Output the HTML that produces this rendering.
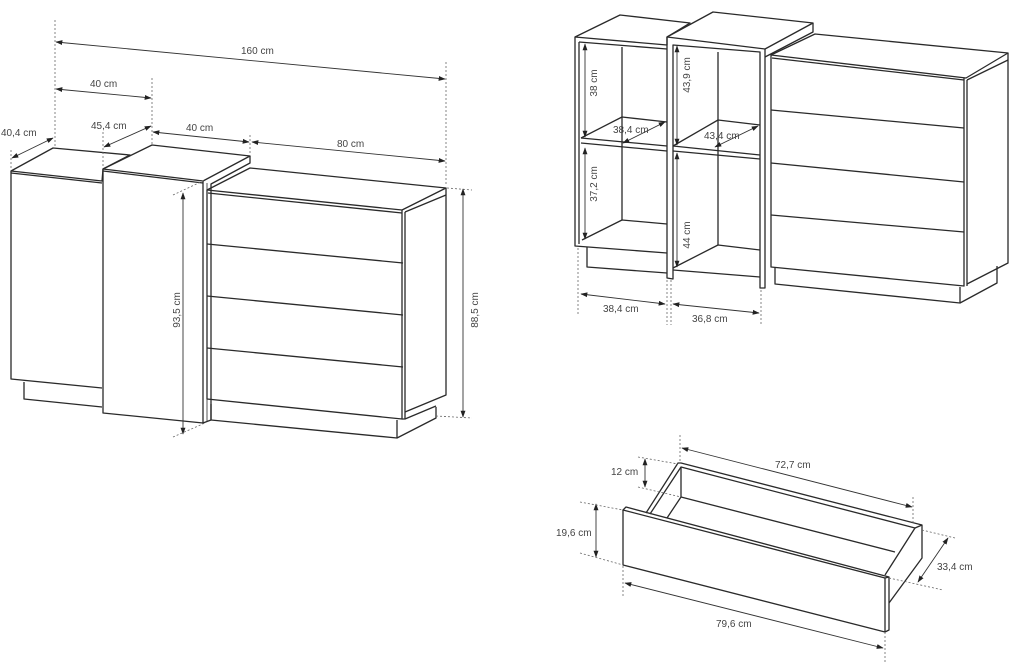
<!DOCTYPE html>
<html><head><meta charset="utf-8"><style>
html,body{margin:0;padding:0;background:#fff;}
svg{display:block}
text{font-family:"Liberation Sans",sans-serif;font-size:10px;fill:#444;}
.l{stroke:#2a2a2a;stroke-width:1.3;fill:none;stroke-linejoin:round}
.t{stroke:#2a2a2a;stroke-width:0.8;fill:none}
.d{stroke:#666;stroke-width:0.8;fill:none;stroke-dasharray:2,2}
.a{stroke:#333;stroke-width:0.9;fill:none;marker-start:url(#ar);marker-end:url(#ar)}
</style></head><body>
<svg width="1020" height="664" viewBox="0 0 1020 664" xmlns="http://www.w3.org/2000/svg">
<defs><marker id="ar" viewBox="0 0 10 10" refX="9" refY="5" markerWidth="7" markerHeight="7" orient="auto-start-reverse" markerUnits="userSpaceOnUse"><path d="M0,1.5 L10,5 L0,8.5 z" fill="#222"/></marker></defs>

<!-- ===== LEFT: full sideboard ===== -->
<!-- left cabinet -->
<polygon class="l" points="11,171 53,148 130,155 103,169 102,181"/>
<line class="l" x1="11" y1="173" x2="102" y2="183"/>
<polyline class="l" points="11,171 11,379 102,388"/>
<polyline class="l" points="24,382 24,399 102,407"/>
<!-- middle cabinet -->
<polygon class="l" points="103,169 152,145 250,156 203,181"/>
<line class="l" x1="103" y1="171" x2="203" y2="183"/>
<polyline class="l" points="103,169 103,413 203,423 203,181"/>
<polyline class="l" points="250,156 250,163 211,184 211,420 203,423"/>
<line class="t" x1="207" y1="183" x2="207" y2="421"/>
<!-- right chest -->
<polygon class="l" points="207,190 250,168 446,188 402,210"/>
<line class="l" x1="208" y1="193" x2="402" y2="213"/>
<polyline class="l" points="207,190 207,399 402,419 402,210"/>
<polyline class="l" points="405,212 446,195 446,395 405,412"/>
<polyline class="l" points="405,212 405,419 402,419"/>
<line class="l" x1="446" y1="188" x2="446" y2="195"/>
<line class="l" x1="207" y1="244" x2="403" y2="263"/>
<line class="l" x1="207" y1="296" x2="403" y2="315"/>
<line class="l" x1="207" y1="348" x2="403" y2="367"/>
<polyline class="l" points="211,404 211,420 397,438 436,418 436,407"/>
<line class="l" x1="397" y1="420" x2="397" y2="438"/>
<line class="l" x1="405" y1="419" x2="436" y2="406"/>
<!-- extension lines -->
<line class="d" x1="55" y1="20" x2="55" y2="148"/>
<line class="d" x1="152" y1="78" x2="152" y2="145"/>
<line class="d" x1="446" y1="62" x2="446" y2="186"/>
<line class="d" x1="11" y1="150" x2="11" y2="170"/>
<line class="d" x1="103" y1="132" x2="103" y2="168"/>
<line class="d" x1="250" y1="135" x2="250" y2="155"/>
<line class="d" x1="173" y1="195" x2="205" y2="180"/>
<line class="d" x1="173" y1="437" x2="205" y2="423"/>
<line class="d" x1="447" y1="188" x2="472" y2="190"/>
<line class="d" x1="436" y1="416" x2="472" y2="418"/>
<!-- dimensions -->
<line class="a" x1="56" y1="42" x2="445" y2="79"/><text x="241" y="54">160 cm</text>
<line class="a" x1="56" y1="89" x2="151" y2="98"/><text x="90" y="87">40 cm</text>
<line class="a" x1="104" y1="147" x2="151" y2="126"/><text x="91" y="129">45,4 cm</text>
<line class="a" x1="12" y1="158" x2="53" y2="138"/><text x="1" y="136">40,4 cm</text>
<line class="a" x1="153" y1="132" x2="249" y2="142"/><text x="186" y="131">40 cm</text>
<line class="a" x1="252" y1="142" x2="445" y2="161"/><text x="337" y="147">80 cm</text>
<line class="a" x1="183" y1="193" x2="183" y2="434"/><text transform="translate(180,310) rotate(-90)" text-anchor="middle">93,5 cm</text>
<line class="a" x1="463" y1="189" x2="463" y2="417"/><text transform="translate(478,310) rotate(-90)" text-anchor="middle">88,5 cm</text>

<!-- ===== TOP RIGHT: open shelves ===== -->
<!-- left open cabinet -->
<polygon class="l" points="575,37 620,15 690,23 667,37 667,45"/>
<polyline class="l" points="575,37 575,246 667,253"/>
<line class="l" x1="579" y1="42" x2="579" y2="244"/>
<line class="l" x1="579" y1="42" x2="667" y2="49"/>
<line class="l" x1="622" y1="47" x2="622" y2="220"/>
<polyline class="l" points="581,138 622,117 667,122"/>
<line class="l" x1="581" y1="138" x2="667" y2="146"/>
<line class="l" x1="581" y1="143" x2="667" y2="151"/>
<polyline class="l" points="582,240 622,220 667,224"/>
<polyline class="l" points="587,247 587,267 667,273"/>
<!-- middle open cabinet -->
<polygon class="l" points="667,37 713,12 813,23 765,49"/>
<polyline class="l" points="813,23 813,32 765,57"/>
<polyline class="l" points="667,37 667,278 673,279 673,45 760,52 760,288 765,288 765,49"/>
<line class="l" x1="718" y1="52" x2="718" y2="245"/>
<polyline class="l" points="673,146 718,120 760,125"/>
<line class="l" x1="673" y1="146" x2="760" y2="155"/>
<line class="l" x1="673" y1="151" x2="760" y2="159"/>
<polyline class="l" points="673,268 718,245 760,250"/>
<line class="l" x1="673" y1="270" x2="760" y2="277"/>
<!-- right chest -->
<polygon class="l" points="771,55 815,34 1008,53 966,78"/>
<line class="l" x1="772" y1="58" x2="964" y2="80"/>
<polyline class="l" points="771,55 771,267 964,286 964,78"/>
<polyline class="l" points="967,80 1008,60 1008,263 967,284"/>
<line class="l" x1="967" y1="80" x2="967" y2="286"/>
<line class="l" x1="1008" y1="53" x2="1008" y2="60"/>
<line class="l" x1="771" y1="110" x2="964" y2="128"/>
<line class="l" x1="771" y1="163" x2="964" y2="182"/>
<line class="l" x1="771" y1="215" x2="964" y2="232"/>
<polyline class="l" points="775,268 775,284 960,303 997,283 997,266"/>
<line class="l" x1="960" y1="287" x2="960" y2="303"/>
<!-- dims -->
<line class="a" x1="585" y1="44" x2="585" y2="137"/><text transform="translate(597,83) rotate(-90)" text-anchor="middle">38 cm</text>
<line class="a" x1="585" y1="148" x2="585" y2="239"/><text transform="translate(597,184) rotate(-90)" text-anchor="middle">37,2 cm</text>
<line class="a" x1="677" y1="46" x2="677" y2="145"/><text transform="translate(690,75) rotate(-90)" text-anchor="middle">43,9 cm</text>
<line class="a" x1="677" y1="153" x2="677" y2="267"/><text transform="translate(690,235) rotate(-90)" text-anchor="middle">44 cm</text>
<line class="a" x1="623" y1="143" x2="665" y2="122"/><text x="613" y="133">38,4 cm</text>
<line class="a" x1="715" y1="147" x2="758" y2="126"/><text x="704" y="139">43,4 cm</text>
<line class="a" x1="581" y1="294" x2="665" y2="304"/><text x="603" y="312">38,4 cm</text>
<line class="a" x1="673" y1="304" x2="759" y2="313"/><text x="692" y="322">36,8 cm</text>
<line class="d" x1="578" y1="248" x2="578" y2="315"/>
<line class="d" x1="667" y1="280" x2="667" y2="325"/>
<line class="d" x1="671" y1="280" x2="671" y2="325"/>
<line class="d" x1="761" y1="290" x2="761" y2="325"/>

<!-- ===== BOTTOM RIGHT: drawer ===== -->
<polygon class="l" points="623,510 626,507 889,577 885,578"/>
<polyline class="l" points="623,510 623,565 885,632 885,578"/>
<polyline class="l" points="885,632 889,630 889,577"/>
<polyline class="l" points="646,513 678,463 681,463 922,525 922,558 889,603"/>
<polyline class="l" points="650,514 681,467 915,528 885,575"/>
<line class="l" x1="915" y1="528" x2="922" y2="525"/>
<line class="l" x1="681" y1="467" x2="681" y2="497"/>
<polyline class="l" points="667,518 681,497 895,552"/>
<!-- drawer dims -->
<line class="a" x1="682" y1="448" x2="912" y2="507"/><text x="775" y="468">72,7 cm</text>
<line class="d" x1="680" y1="435" x2="680" y2="463"/>
<line class="d" x1="913" y1="497" x2="913" y2="525"/>
<line class="a" x1="645" y1="459" x2="645" y2="487"/><text x="611" y="475">12 cm</text>
<line class="d" x1="638" y1="457" x2="678" y2="464"/>
<line class="d" x1="638" y1="487" x2="681" y2="497"/>
<line class="a" x1="596" y1="504" x2="596" y2="557"/><text x="556" y="536">19,6 cm</text>
<line class="d" x1="580" y1="502" x2="623" y2="510"/>
<line class="d" x1="580" y1="553" x2="623" y2="565"/>
<line class="a" x1="625" y1="583" x2="883" y2="648"/><text x="716" y="627">79,6 cm</text>
<line class="d" x1="623" y1="566" x2="623" y2="598"/>
<line class="d" x1="885" y1="632" x2="885" y2="662"/>
<line class="a" x1="918" y1="582" x2="948" y2="538"/><text x="937" y="570">33,4 cm</text>
<line class="d" x1="922" y1="530" x2="955" y2="538"/>
<line class="d" x1="889" y1="578" x2="943" y2="590"/>
</svg>
</body></html>
